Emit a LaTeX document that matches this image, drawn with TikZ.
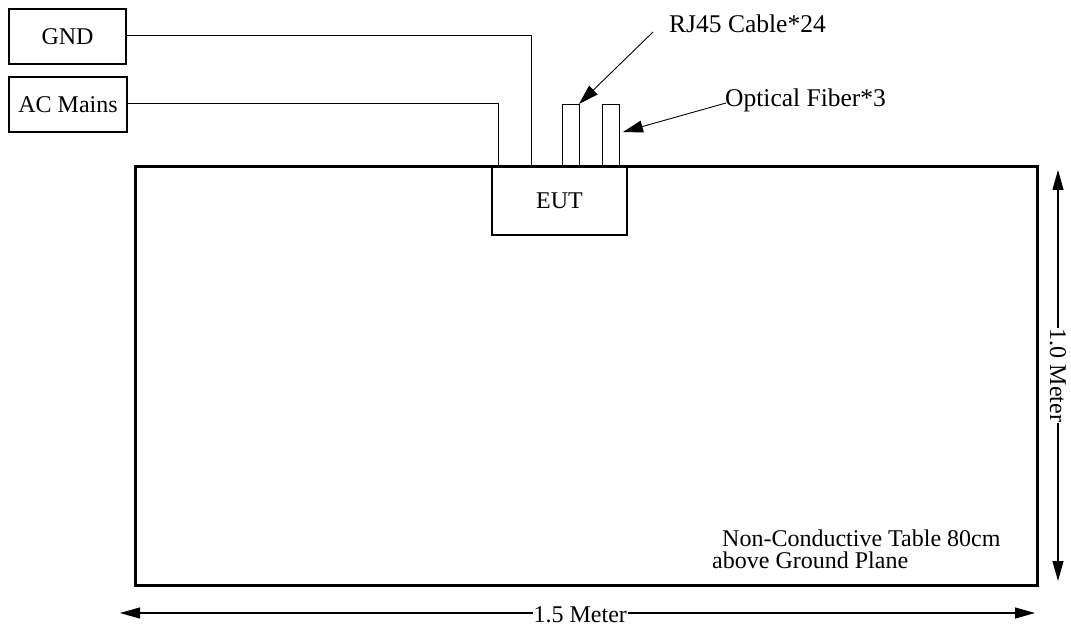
\documentclass[tikz,border=0pt]{standalone}
\usepackage{fontspec}
\setmainfont{Liberation Serif}
\usetikzlibrary{arrows.meta}
\begin{document}
\begin{tikzpicture}[x=1pt,y=-1pt,
  txt/.style={font=\fontsize{24}{26}\selectfont, inner sep=0pt},
  lbl/.style={font=\fontsize{25.5}{28}\selectfont, inner sep=0pt},
  thin line/.style={line width=0.9pt},
  box/.style={draw, line width=1.1pt},
  tip/.style={-{Triangle[length=20pt,width=12pt]}},
  dim/.style={line width=1.1pt,{Triangle[length=20pt,width=11pt]}-{Triangle[length=20pt,width=11pt]}}]
\useasboundingbox (0,0) rectangle (1071,631);
% table
\draw[line width=3pt] (135,167) rectangle (1037,585);
% boxes
\node[box, txt, minimum width=117pt, minimum height=55pt] (gnd) at (67.5,36.5) {GND};
\node[box, txt, minimum width=118pt, minimum height=55pt] (ac) at (68,104.5) {AC Mains};
\node[box, txt, minimum width=135pt, minimum height=68pt, fill=white] (eut) at (559.5,201) {EUT};
% cables
\coordinate (g1) at (531,35.5);
\coordinate (g2) at (531,166);
\coordinate (a1) at (498,103);
\coordinate (a2) at (498,166);
\draw[thin line] (gnd.east |- g1) -- (g1) -- (g2);
\draw[thin line] (ac.east |- a1) -- (a1) -- (a2);
\coordinate (r1) at (562,166);
\coordinate (r2) at (579,166);
\coordinate (f1) at (602,166);
\coordinate (f2) at (619,166);
\draw[thin line] (r1) -- ++(0,-62) -| (r2);
\draw[thin line] (f1) -- ++(0,-62) -| (f2);
% labels
\node[lbl, anchor=base west] (rj) at (669,33) {RJ45 Cable*24};
\node[lbl, anchor=base west] (of) at (725,107) {Optical Fiber*3};
\coordinate (rjs) at (653,32);
\coordinate (rjt) at (579,104);
\coordinate (ofs) at (726,103);
\coordinate (oft) at (623,132);
\draw[thin line, tip] (rjs) -- (rjt);
\draw[thin line, tip] (ofs) -- (oft);
% table text
\node[txt, anchor=base west] (t1) at (722,546) {Non-Conductive Table 80cm};
\node[txt, anchor=base west] (t2) at (712,568) {above Ground Plane};
% dimensions
\coordinate (v1) at (1058,170);
\coordinate (v2) at (1058,581);
\draw[dim] (v1) -- (v2) node[midway, txt, fill=white, inner sep=1pt, rotate=-90] (vl) {1.0 Meter};
\coordinate (h1) at (120,613);
\coordinate (h2) at (1035,613);
\draw[dim] (h1) -- (h2) node[pos=0.503, txt, fill=white, inner sep=1pt, yshift=-2pt] (hl) {1.5 Meter};
\end{tikzpicture}
\end{document}
